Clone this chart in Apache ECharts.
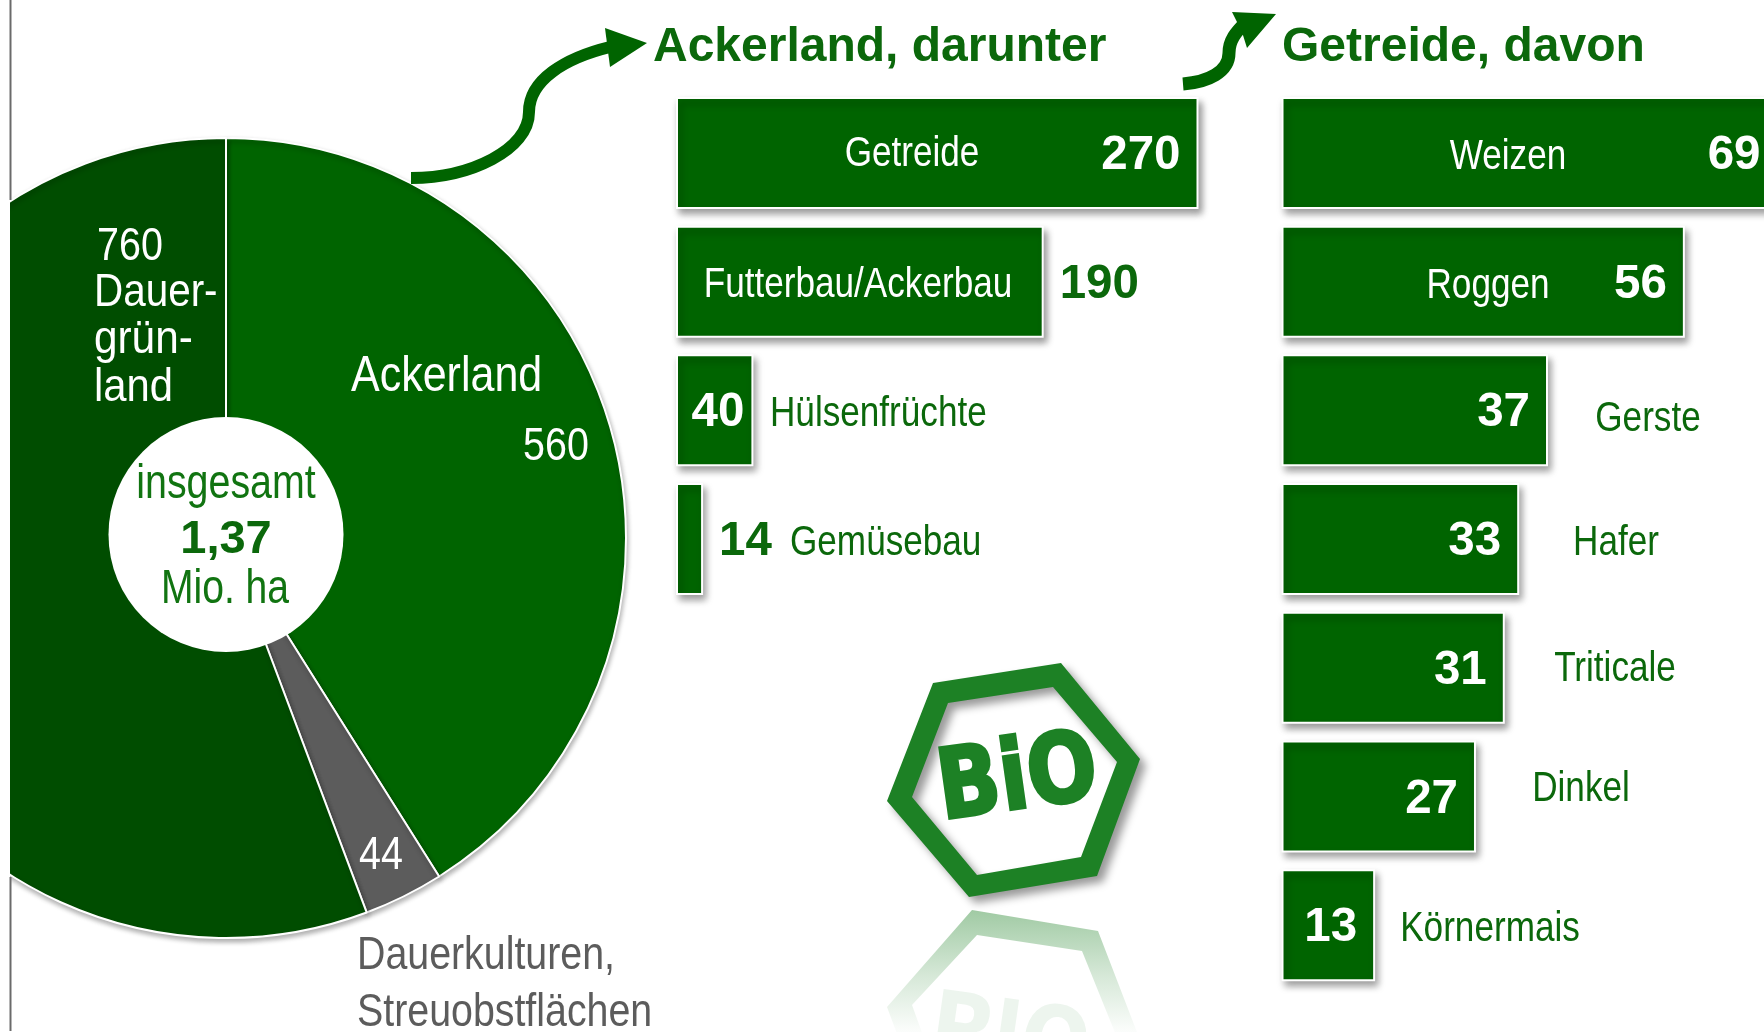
<!DOCTYPE html>
<html><head><meta charset="utf-8">
<script src="https://cdn.jsdelivr.net/npm/echarts@6/dist/echarts.min.js"></script>
<style>html,body{margin:0;padding:0;background:#fff}#c{width:1764px;height:1032px}</style>
</head><body><div id="c"></div>
<script>
var pieNames = ['Ackerland', 'Dauerkulturen, Streuobstflächen', 'Dauergrünland'];
var pieValues = [560, 44, 760];
var totalLabel = '1,37';
var arableNames = ['Getreide', 'Futterbau/Ackerbau', 'Hülsenfrüchte', 'Gemüsebau'];
var arableValues = [270, 190, 40, 14];
var grainNames = ['Weizen', 'Roggen', 'Gerste', 'Hafer', 'Triticale', 'Dinkel', 'Körnermais'];
var grainValues = [69, 56, 37, 33, 31, 27, 13];

var GREEN = '#006400', DARK = '#004d00', GREY = '#5c5c5c', TXT = '#0b680b', LOGO = '#1d8125';
var BODY = '"Liberation Sans",Arial,sans-serif';

// the reference lettering is a squeezed sans: sx narrows it about its anchor
function txt(t, x, y, size, fill, opts) {
  opts = opts || {};
  return {type: 'text', z: 60, x: x, y: y + 3, silent: true, scaleX: opts.sx || 1,
    style: {text: t, fontSize: size, fontFamily: BODY,
      fontWeight: opts.weight || 'normal', fill: fill,
      align: opts.align || 'center', verticalAlign: 'middle'}};
}
function barData(values, placement) {
  return values.map(function (v, i) {
    var p = placement[i];
    return {value: v, label: {show: true, position: p[0], distance: p[1], color: p[2], formatter: '{c}', offset: [0, 3],
      fontFamily: BODY, fontWeight: 'bold', fontSize: 47.5}};
  });
}
var barStyle = {color: GREEN, borderColor: '#fff', borderWidth: 2, shadowBlur: 7, shadowOffsetX: 3, shadowOffsetY: 5, shadowColor: 'rgba(0,0,0,0.4)'};

var logoGrad = {type: 'linear', x: 0, y: 910, x2: 0, y2: 1030, global: true,
  colorStops: [{offset: 0, color: 'rgba(29,129,37,0.42)'}, {offset: 0.55, color: 'rgba(29,129,37,0.18)'}, {offset: 1, color: 'rgba(29,129,37,0.02)'}]};

function poly(pts, style, z) { return {type: 'polygon', z: z || 50, silent: true, shape: {points: pts}, style: style}; }
function ring(outer, inner) {
  return outer.concat([outer[0]], inner, [inner[0]]);
}
function curve(a, b, c, d, w) {
  return {type: 'bezierCurve', z: 45, silent: true,
    shape: {x1: a[0], y1: a[1], cpx1: b[0], cpy1: b[1], cpx2: c[0], cpy2: c[1], x2: d[0], y2: d[1]},
    style: {fill: 'none', stroke: GREEN, lineWidth: w}};
}

var PIE_SX = 0.86, NAME_SX = 0.817;
var graphics = [
  {type: 'rect', z: 40, silent: true, shape: {x: 0, y: 0, width: 10, height: 1032}, style: {fill: '#fff'}},
  {type: 'line', z: 41, silent: true, shape: {x1: 10.5, y1: 0, x2: 10.5, y2: 200}, style: {stroke: '#6a6a6a', lineWidth: 2}},
  {type: 'line', z: 41, silent: true, shape: {x1: 10.5, y1: 877, x2: 10.5, y2: 1031}, style: {stroke: '#6a6a6a', lineWidth: 2}},
  {type: 'circle', z: 42, silent: true, shape: {cx: 226, cy: 534.5, r: 117.5}, style: {fill: '#fff'}},
  // arrows
  curve([411, 178], [470, 178], [529, 150], [529, 112], 12),
  curve([529, 112], [529, 80], [565, 58], [610, 47], 12),
  poly([[605, 28], [647, 43], [610, 67]], {fill: GREEN}),
  curve([1183, 84], [1208, 82], [1229, 72], [1229, 53], 13),
  curve([1229, 53], [1229, 40], [1236, 32], [1246, 22], 13),
  poly([[1232, 12], [1276, 14], [1247, 48], [1242, 32]], {fill: GREEN}),
  // logo
  poly(ring([[933, 683], [1061, 663], [1140, 759], [1097, 876], [969, 897], [887, 801]],
            [[948, 703], [912, 797], [977, 875], [1081, 857], [1117, 762], [1053, 687]]),
    {fill: LOGO, shadowBlur: 8, shadowOffsetX: 6, shadowOffsetY: 6, shadowColor: 'rgba(0,0,0,0.4)'}, 45),
  {type: 'text', z: 46, silent: true, x: 1018, y: 783, rotation: 0.14, scaleY: 1.18,
    style: {text: 'BiO', fontFamily: '"DejaVu Sans",sans-serif', fontWeight: 'bold', fontSize: 82, fill: LOGO, stroke: LOGO, lineWidth: 3, align: 'center', verticalAlign: 'middle',
      shadowBlur: 5, shadowOffsetX: 4, shadowOffsetY: 4, shadowColor: 'rgba(0,0,0,0.35)'}},
  poly(ring([[972, 910], [1098, 931], [1140, 1040], [1061, 1150], [933, 1130], [887, 1007]],
            [[977, 935], [912, 1005], [948, 1105], [1053, 1120], [1118, 1040], [1082, 951]]),
    {fill: logoGrad}, 45),
  {type: 'text', z: 46, silent: true, x: 1012, y: 1024, rotation: -0.14, scaleY: -1.18,
    style: {text: 'BiO', fontFamily: '"DejaVu Sans",sans-serif', fontWeight: 'bold', fontSize: 82, fill: 'rgba(29,129,37,0.08)', align: 'center', verticalAlign: 'middle'}},
  // headings
  txt('Ackerland, darunter', 653, 44.5, 48, TXT, {weight: 'bold', align: 'left'}),
  txt('Getreide, davon', 1282, 44.5, 48, TXT, {weight: 'bold', align: 'left'}),
  // pie texts
  txt(String(pieValues[2]), 97, 244, 47, '#fff', {align: 'left', sx: 0.84}),
  txt('Dauer-', 94, 290, 47, '#fff', {align: 'left', sx: PIE_SX}),
  txt('grün-', 94, 337, 47, '#fff', {align: 'left', sx: 0.9}),
  txt('land', 94, 385, 47, '#fff', {align: 'left', sx: 0.89}),
  txt(pieNames[0], 351, 374, 50, '#fff', {align: 'left', sx: PIE_SX}),
  txt(String(pieValues[0]), 523, 444, 47, '#fff', {align: 'left', sx: 0.84}),
  txt(String(pieValues[1]), 381, 853, 47, '#fff', {sx: 0.84}),
  txt('Dauerkulturen,', 357, 953, 46, GREY, {align: 'left', sx: 0.855}),
  txt('Streuobstflächen', 357, 1010, 46, GREY, {align: 'left', sx: 0.855}),
  txt('insgesamt', 226, 482, 48, '#117411', {sx: 0.82}),
  txt(totalLabel, 226, 537, 47, TXT, {weight: 'bold'}),
  txt('Mio. ha', 225, 587, 48, '#117411', {sx: 0.814})
];

var arableNameSpots = [[912, 151, 'center', '#fff'], [858, 282, 'center', '#fff'], [770, 411, 'left', TXT], [790, 540, 'left', TXT]];
var grainNameSpots = [[1508, 154, 'center', '#fff'], [1488, 283, 'center', '#fff'], [1648, 416, 'center', TXT], [1616, 540, 'center', TXT], [1615, 666, 'center', TXT], [1581, 786, 'center', TXT], [1490, 926, 'center', TXT]];
arableNames.forEach(function (n, i) { var s = arableNameSpots[i]; graphics.push(txt(n, s[0], s[1], 43, s[3], {align: s[2], sx: NAME_SX})); });
grainNames.forEach(function (n, i) { var s = grainNameSpots[i]; graphics.push(txt(n, s[0], s[1], 43, s[3], {align: s[2], sx: NAME_SX})); });

var option = {
  animation: false,
  backgroundColor: '#fff',
  tooltip: {show: false},
  grid: [
    {left: 676, top: 88.6, width: 522.5, height: 514.8, outerBoundsMode: 'none'},
    {left: 1281.5, top: 88.6, width: 497, height: 900.9, outerBoundsMode: 'none'}
  ],
  xAxis: [
    {gridIndex: 0, type: 'value', min: 0, max: 270, show: false},
    {gridIndex: 1, type: 'value', min: 0, max: 69, show: false}
  ],
  yAxis: [
    {gridIndex: 0, type: 'category', inverse: true, data: arableNames, show: false},
    {gridIndex: 1, type: 'category', inverse: true, data: grainNames, show: false}
  ],
  series: [
    {type: 'pie', center: [226, 538], radius: [0, 400], startAngle: 90, clockwise: true, silent: true,
      label: {show: false}, labelLine: {show: false}, emphasis: {disabled: true},
      itemStyle: {borderColor: '#fff', borderWidth: 2, shadowBlur: 5, shadowOffsetX: 1, shadowOffsetY: 3, shadowColor: 'rgba(0,0,0,0.3)'},
      data: pieNames.map(function (n, i) { return {name: n, value: pieValues[i], itemStyle: {color: [GREEN, GREY, DARK][i]}}; })},
    {type: 'bar', xAxisIndex: 0, yAxisIndex: 0, barWidth: 112, silent: true, itemStyle: barStyle,
      data: barData(arableValues, [['insideRight', 18, '#fff'], ['right', 16, TXT], ['insideRight', 9, '#fff'], ['right', 16, TXT]])},
    {type: 'bar', xAxisIndex: 1, yAxisIndex: 1, barWidth: 112, silent: true, itemStyle: barStyle,
      data: barData(grainValues, grainValues.map(function () { return ['insideRight', 18, '#fff']; }))}
  ],
  graphic: {elements: graphics}
};
echarts.init(document.getElementById('c')).setOption(option);
</script></body></html>
